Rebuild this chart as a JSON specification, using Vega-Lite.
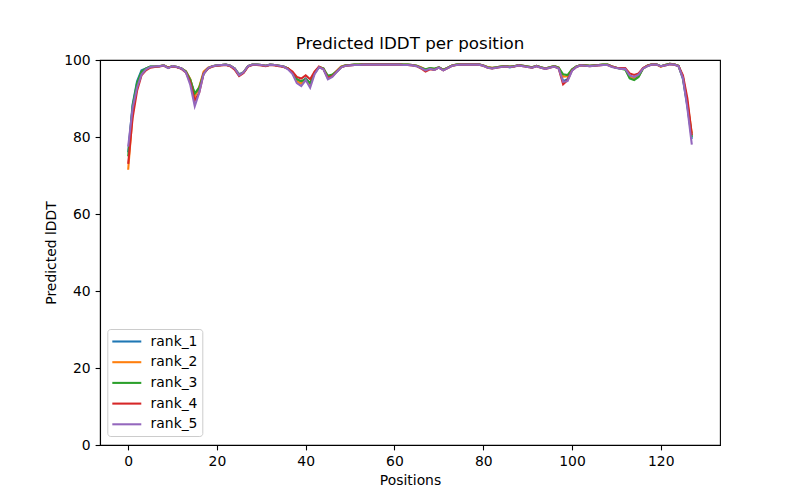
{
"$schema": "https://vega.github.io/schema/vega-lite/v6.json",
"width": 620, "height": 385,
"autosize": {"type": "none"},
"padding": {"left": 100, "top": 60, "right": 80, "bottom": 55},
"background": "white",
"title": {"text": "Predicted lDDT per position", "fontSize": 16.7, "font": "DejaVu Sans", "fontWeight": "normal", "color": "#000", "offset": 0},
"data": {"values": [
{"p":0,"rank_1":76,"rank_2":71.5,"rank_3":75,"rank_4":73,"rank_5":77.5},
{"p":1,"rank_1":88.5,"rank_2":86,"rank_3":88,"rank_4":85,"rank_5":87.5},
{"p":2,"rank_1":94.5,"rank_2":93,"rank_3":94,"rank_4":92,"rank_5":92.8},
{"p":3,"rank_1":97.3,"rank_2":96.5,"rank_3":97,"rank_4":96,"rank_5":96.2},
{"p":4,"rank_1":97.8,"rank_2":97.5,"rank_3":97.8,"rank_4":97.3,"rank_5":97.6},
{"p":5,"rank_1":98.3,"rank_2":98.2,"rank_3":98.3,"rank_4":98,"rank_5":98.2},
{"p":6,"rank_1":98.3,"rank_2":98.3,"rank_3":98.3,"rank_4":98.2,"rank_5":98.3},
{"p":7,"rank_1":98.4,"rank_2":98.4,"rank_3":98.4,"rank_4":98.3,"rank_5":98.4},
{"p":8,"rank_1":98.6,"rank_2":98.7,"rank_3":98.6,"rank_4":98.5,"rank_5":98.6},
{"p":9,"rank_1":98,"rank_2":98,"rank_3":98,"rank_4":98,"rank_5":97.9},
{"p":10,"rank_1":98.4,"rank_2":98.4,"rank_3":98.4,"rank_4":98.3,"rank_5":98.4},
{"p":11,"rank_1":98.2,"rank_2":98.2,"rank_3":98.2,"rank_4":98.1,"rank_5":98.2},
{"p":12,"rank_1":97.8,"rank_2":97.8,"rank_3":97.8,"rank_4":97.7,"rank_5":97.8},
{"p":13,"rank_1":97,"rank_2":97.1,"rank_3":97,"rank_4":96.8,"rank_5":96.8},
{"p":14,"rank_1":94.8,"rank_2":95,"rank_3":94.8,"rank_4":94.2,"rank_5":93.5},
{"p":15,"rank_1":91,"rank_2":90.5,"rank_3":91.3,"rank_4":89.5,"rank_5":88},
{"p":16,"rank_1":92.5,"rank_2":93,"rank_3":92.8,"rank_4":91.5,"rank_5":91.5},
{"p":17,"rank_1":96.5,"rank_2":97,"rank_3":96.5,"rank_4":96.5,"rank_5":96.4},
{"p":18,"rank_1":97.9,"rank_2":98,"rank_3":97.9,"rank_4":97.8,"rank_5":97.9},
{"p":19,"rank_1":98.4,"rank_2":98.4,"rank_3":98.4,"rank_4":98.3,"rank_5":98.4},
{"p":20,"rank_1":98.6,"rank_2":98.6,"rank_3":98.6,"rank_4":98.5,"rank_5":98.6},
{"p":21,"rank_1":98.7,"rank_2":98.7,"rank_3":98.7,"rank_4":98.6,"rank_5":98.7},
{"p":22,"rank_1":98.8,"rank_2":98.8,"rank_3":98.8,"rank_4":98.7,"rank_5":98.8},
{"p":23,"rank_1":98.5,"rank_2":98.5,"rank_3":98.5,"rank_4":98.4,"rank_5":98.5},
{"p":24,"rank_1":97.8,"rank_2":97.8,"rank_3":97.8,"rank_4":97.5,"rank_5":97.8},
{"p":25,"rank_1":96.3,"rank_2":96,"rank_3":96,"rank_4":95.8,"rank_5":96},
{"p":26,"rank_1":96.8,"rank_2":96.8,"rank_3":96.8,"rank_4":96.6,"rank_5":96.8},
{"p":27,"rank_1":98.4,"rank_2":98.4,"rank_3":98.4,"rank_4":98.3,"rank_5":98.4},
{"p":28,"rank_1":98.8,"rank_2":98.8,"rank_3":98.8,"rank_4":98.7,"rank_5":98.8},
{"p":29,"rank_1":98.8,"rank_2":98.8,"rank_3":98.8,"rank_4":98.7,"rank_5":98.8},
{"p":30,"rank_1":98.7,"rank_2":98.7,"rank_3":98.7,"rank_4":98.6,"rank_5":98.7},
{"p":31,"rank_1":98.5,"rank_2":98.5,"rank_3":98.5,"rank_4":98.4,"rank_5":98.5},
{"p":32,"rank_1":98.8,"rank_2":98.8,"rank_3":98.8,"rank_4":98.7,"rank_5":98.8},
{"p":33,"rank_1":98.7,"rank_2":98.7,"rank_3":98.7,"rank_4":98.6,"rank_5":98.7},
{"p":34,"rank_1":98.5,"rank_2":98.5,"rank_3":98.5,"rank_4":98.4,"rank_5":98.5},
{"p":35,"rank_1":98.3,"rank_2":98.3,"rank_3":98.3,"rank_4":98.2,"rank_5":98.3},
{"p":36,"rank_1":97.8,"rank_2":97.8,"rank_3":97.8,"rank_4":97.8,"rank_5":97.6},
{"p":37,"rank_1":96.8,"rank_2":96.6,"rank_3":96.8,"rank_4":97,"rank_5":96.4},
{"p":38,"rank_1":95,"rank_2":94.5,"rank_3":95,"rank_4":95.6,"rank_5":94},
{"p":39,"rank_1":94.3,"rank_2":93.8,"rank_3":94.5,"rank_4":95.2,"rank_5":93.2},
{"p":40,"rank_1":95.2,"rank_2":95,"rank_3":95,"rank_4":96,"rank_5":94.8},
{"p":41,"rank_1":94,"rank_2":93.5,"rank_3":94,"rank_4":95,"rank_5":92.8},
{"p":42,"rank_1":96.6,"rank_2":96.8,"rank_3":96.6,"rank_4":97,"rank_5":96.3},
{"p":43,"rank_1":98.2,"rank_2":98.2,"rank_3":98.2,"rank_4":98.3,"rank_5":98.1},
{"p":44,"rank_1":97.7,"rank_2":97.8,"rank_3":97.8,"rank_4":97.6,"rank_5":97.6},
{"p":45,"rank_1":95.3,"rank_2":95.3,"rank_3":95.9,"rank_4":95.4,"rank_5":95},
{"p":46,"rank_1":95.8,"rank_2":95.9,"rank_3":96.2,"rank_4":95.8,"rank_5":95.6},
{"p":47,"rank_1":97,"rank_2":97.2,"rank_3":97.1,"rank_4":97,"rank_5":96.9},
{"p":48,"rank_1":98.2,"rank_2":98.3,"rank_3":98.2,"rank_4":98.1,"rank_5":98.1},
{"p":49,"rank_1":98.6,"rank_2":98.6,"rank_3":98.6,"rank_4":98.5,"rank_5":98.5},
{"p":50,"rank_1":98.7,"rank_2":98.7,"rank_3":98.7,"rank_4":98.6,"rank_5":98.6},
{"p":51,"rank_1":98.8,"rank_2":98.8,"rank_3":98.8,"rank_4":98.7,"rank_5":98.7},
{"p":52,"rank_1":98.8,"rank_2":98.8,"rank_3":98.8,"rank_4":98.7,"rank_5":98.7},
{"p":53,"rank_1":98.9,"rank_2":98.9,"rank_3":98.9,"rank_4":98.8,"rank_5":98.8},
{"p":54,"rank_1":98.9,"rank_2":98.9,"rank_3":98.9,"rank_4":98.8,"rank_5":98.8},
{"p":55,"rank_1":98.9,"rank_2":98.9,"rank_3":98.9,"rank_4":98.8,"rank_5":98.8},
{"p":56,"rank_1":98.9,"rank_2":98.9,"rank_3":98.9,"rank_4":98.8,"rank_5":98.8},
{"p":57,"rank_1":98.9,"rank_2":98.9,"rank_3":98.9,"rank_4":98.8,"rank_5":98.8},
{"p":58,"rank_1":98.9,"rank_2":98.9,"rank_3":98.9,"rank_4":98.8,"rank_5":98.8},
{"p":59,"rank_1":98.9,"rank_2":98.9,"rank_3":98.9,"rank_4":98.8,"rank_5":98.8},
{"p":60,"rank_1":98.9,"rank_2":98.9,"rank_3":98.9,"rank_4":98.8,"rank_5":98.8},
{"p":61,"rank_1":98.9,"rank_2":98.9,"rank_3":98.9,"rank_4":98.8,"rank_5":98.8},
{"p":62,"rank_1":98.8,"rank_2":98.8,"rank_3":98.8,"rank_4":98.7,"rank_5":98.7},
{"p":63,"rank_1":98.8,"rank_2":98.8,"rank_3":98.8,"rank_4":98.7,"rank_5":98.7},
{"p":64,"rank_1":98.7,"rank_2":98.7,"rank_3":98.7,"rank_4":98.6,"rank_5":98.6},
{"p":65,"rank_1":98.5,"rank_2":98.5,"rank_3":98.5,"rank_4":98.4,"rank_5":98.4},
{"p":66,"rank_1":98,"rank_2":98.1,"rank_3":98,"rank_4":97.8,"rank_5":97.9},
{"p":67,"rank_1":97.4,"rank_2":97.5,"rank_3":97.6,"rank_4":97,"rank_5":97.3},
{"p":68,"rank_1":97.8,"rank_2":97.9,"rank_3":97.9,"rank_4":97.6,"rank_5":97.7},
{"p":69,"rank_1":97.5,"rank_2":97.6,"rank_3":97.8,"rank_4":97.4,"rank_5":97.4},
{"p":70,"rank_1":98.1,"rank_2":98.1,"rank_3":98.1,"rank_4":98,"rank_5":98},
{"p":71,"rank_1":97.4,"rank_2":97.5,"rank_3":97.5,"rank_4":97.3,"rank_5":97.3},
{"p":72,"rank_1":98,"rank_2":98,"rank_3":98,"rank_4":97.9,"rank_5":97.9},
{"p":73,"rank_1":98.6,"rank_2":98.6,"rank_3":98.6,"rank_4":98.5,"rank_5":98.5},
{"p":74,"rank_1":98.8,"rank_2":98.8,"rank_3":98.8,"rank_4":98.7,"rank_5":98.7},
{"p":75,"rank_1":98.9,"rank_2":98.9,"rank_3":98.9,"rank_4":98.8,"rank_5":98.8},
{"p":76,"rank_1":98.9,"rank_2":98.9,"rank_3":98.9,"rank_4":98.8,"rank_5":98.8},
{"p":77,"rank_1":98.9,"rank_2":98.9,"rank_3":98.9,"rank_4":98.8,"rank_5":98.8},
{"p":78,"rank_1":98.9,"rank_2":98.9,"rank_3":98.9,"rank_4":98.8,"rank_5":98.8},
{"p":79,"rank_1":98.9,"rank_2":98.9,"rank_3":98.9,"rank_4":98.8,"rank_5":98.8},
{"p":80,"rank_1":98.6,"rank_2":98.6,"rank_3":98.6,"rank_4":98.5,"rank_5":98.5},
{"p":81,"rank_1":98.1,"rank_2":98.2,"rank_3":98.1,"rank_4":98,"rank_5":98},
{"p":82,"rank_1":97.9,"rank_2":98,"rank_3":97.9,"rank_4":97.8,"rank_5":97.8},
{"p":83,"rank_1":98.1,"rank_2":98.1,"rank_3":98.1,"rank_4":98,"rank_5":98},
{"p":84,"rank_1":98.3,"rank_2":98.3,"rank_3":98.3,"rank_4":98.2,"rank_5":98.2},
{"p":85,"rank_1":98.4,"rank_2":98.4,"rank_3":98.4,"rank_4":98.3,"rank_5":98.3},
{"p":86,"rank_1":98.1,"rank_2":98.3,"rank_3":98.3,"rank_4":98.2,"rank_5":98.2},
{"p":87,"rank_1":98.4,"rank_2":98.4,"rank_3":98.4,"rank_4":98.3,"rank_5":98.3},
{"p":88,"rank_1":98.7,"rank_2":98.7,"rank_3":98.7,"rank_4":98.6,"rank_5":98.6},
{"p":89,"rank_1":98.5,"rank_2":98.5,"rank_3":98.5,"rank_4":98.4,"rank_5":98.4},
{"p":90,"rank_1":98.3,"rank_2":98.3,"rank_3":98.3,"rank_4":98.2,"rank_5":98.2},
{"p":91,"rank_1":98.1,"rank_2":98.1,"rank_3":98.1,"rank_4":98,"rank_5":98},
{"p":92,"rank_1":98.5,"rank_2":98.5,"rank_3":98.5,"rank_4":98.4,"rank_5":98.4},
{"p":93,"rank_1":98.1,"rank_2":98.1,"rank_3":98.1,"rank_4":98,"rank_5":98},
{"p":94,"rank_1":97.8,"rank_2":97.8,"rank_3":97.8,"rank_4":97.7,"rank_5":97.7},
{"p":95,"rank_1":98.1,"rank_2":98.1,"rank_3":98.1,"rank_4":98,"rank_5":98},
{"p":96,"rank_1":98.4,"rank_2":98.4,"rank_3":98.4,"rank_4":98.3,"rank_5":98.3},
{"p":97,"rank_1":98,"rank_2":98,"rank_3":98,"rank_4":97.8,"rank_5":97.8},
{"p":98,"rank_1":94.5,"rank_2":95.7,"rank_3":96.3,"rank_4":93.7,"rank_5":94.3},
{"p":99,"rank_1":95,"rank_2":95.8,"rank_3":96.1,"rank_4":94.8,"rank_5":94.5},
{"p":100,"rank_1":97.4,"rank_2":97.5,"rank_3":97.6,"rank_4":97.3,"rank_5":97.2},
{"p":101,"rank_1":98.3,"rank_2":98.3,"rank_3":98.3,"rank_4":98.2,"rank_5":98.2},
{"p":102,"rank_1":98.7,"rank_2":98.7,"rank_3":98.7,"rank_4":98.6,"rank_5":98.6},
{"p":103,"rank_1":98.6,"rank_2":98.6,"rank_3":98.6,"rank_4":98.5,"rank_5":98.5},
{"p":104,"rank_1":98.5,"rank_2":98.5,"rank_3":98.5,"rank_4":98.4,"rank_5":98.4},
{"p":105,"rank_1":98.6,"rank_2":98.6,"rank_3":98.6,"rank_4":98.5,"rank_5":98.5},
{"p":106,"rank_1":98.7,"rank_2":98.7,"rank_3":98.7,"rank_4":98.6,"rank_5":98.6},
{"p":107,"rank_1":98.8,"rank_2":98.8,"rank_3":98.8,"rank_4":98.7,"rank_5":98.7},
{"p":108,"rank_1":98.8,"rank_2":98.8,"rank_3":98.8,"rank_4":98.7,"rank_5":98.7},
{"p":109,"rank_1":98.3,"rank_2":98.3,"rank_3":98.3,"rank_4":98.3,"rank_5":98.2},
{"p":110,"rank_1":98,"rank_2":98,"rank_3":98,"rank_4":98,"rank_5":97.9},
{"p":111,"rank_1":97.8,"rank_2":97.8,"rank_3":97.7,"rank_4":97.9,"rank_5":97.7},
{"p":112,"rank_1":97.7,"rank_2":97.7,"rank_3":97.5,"rank_4":97.9,"rank_5":97.7},
{"p":113,"rank_1":95.8,"rank_2":95.5,"rank_3":95.2,"rank_4":96.5,"rank_5":96},
{"p":114,"rank_1":95.4,"rank_2":95.2,"rank_3":94.8,"rank_4":96.1,"rank_5":95.6},
{"p":115,"rank_1":95.8,"rank_2":95.8,"rank_3":95.6,"rank_4":96.5,"rank_5":96.2},
{"p":116,"rank_1":97.8,"rank_2":97.8,"rank_3":97.8,"rank_4":97.9,"rank_5":97.8},
{"p":117,"rank_1":98.5,"rank_2":98.5,"rank_3":98.5,"rank_4":98.5,"rank_5":98.4},
{"p":118,"rank_1":98.9,"rank_2":98.9,"rank_3":98.9,"rank_4":98.8,"rank_5":98.8},
{"p":119,"rank_1":98.9,"rank_2":98.9,"rank_3":98.9,"rank_4":98.8,"rank_5":98.8},
{"p":120,"rank_1":98.4,"rank_2":98.2,"rank_3":98.4,"rank_4":98.4,"rank_5":98.4},
{"p":121,"rank_1":98.7,"rank_2":98.7,"rank_3":98.7,"rank_4":98.6,"rank_5":98.6},
{"p":122,"rank_1":99,"rank_2":99,"rank_3":99,"rank_4":98.9,"rank_5":98.9},
{"p":123,"rank_1":98.9,"rank_2":98.9,"rank_3":98.9,"rank_4":98.8,"rank_5":98.8},
{"p":124,"rank_1":98.5,"rank_2":98.5,"rank_3":98.5,"rank_4":98.4,"rank_5":98.4},
{"p":125,"rank_1":95,"rank_2":95.5,"rank_3":95.5,"rank_4":96,"rank_5":95.3},
{"p":126,"rank_1":88,"rank_2":89,"rank_3":88.5,"rank_4":90,"rank_5":87.5},
{"p":127,"rank_1":79.5,"rank_2":81,"rank_3":80,"rank_4":80.5,"rank_5":78}
]},
"transform": [{"fold": ["rank_1", "rank_2", "rank_3", "rank_4", "rank_5"], "as": ["rank", "value"]}],
"mark": {"type": "line", "strokeWidth": 2.08, "clip": true},
"encoding": {
  "x": {"field": "p", "type": "quantitative", "title": "Positions",
        "scale": {"domain": [-6.35, 133.35], "nice": false, "zero": false},
        "axis": {"values": [0, 20, 40, 60, 80, 100, 120], "grid": false, "format": "d"}},
  "y": {"field": "value", "type": "quantitative", "title": "Predicted lDDT",
        "scale": {"domain": [0, 100], "nice": false, "zero": false},
        "axis": {"values": [0, 20, 40, 60, 80, 100], "grid": false, "format": "d"}},
  "color": {"field": "rank", "type": "nominal",
        "scale": {"domain": ["rank_1", "rank_2", "rank_3", "rank_4", "rank_5"], "range": ["#1f77b4", "#ff7f0e", "#2ca02c", "#d62728", "#9467bd"]},
        "legend": {"title": null, "orient": "none", "legendX": 7.3, "legendY": 269,
                   "symbolType": "M-2,0H2", "symbolSize": 210, "symbolStrokeWidth": 2.08,
                   "symbolOffset": 7, "labelOffset": 15.3, "rowPadding": 4.7, "padding": 4,
                   "labelFontSize": 13.9, "labelFont": "DejaVu Sans", "labelColor": "#000",
                   "fillColor": "rgba(255,255,255,0.8)", "strokeColor": "#cccccc", "cornerRadius": 3}}
},
"config": {
  "view": {"stroke": "#000", "strokeWidth": 1.1},
  "axis": {"domainColor": "#000", "domainWidth": 1.1, "tickColor": "#000", "tickWidth": 1.1, "tickSize": 4.9,
           "labelPadding": 4.9, "labelFontSize": 13.9, "labelFont": "DejaVu Sans", "labelColor": "#000",
           "titleFontSize": 13.9, "titleFont": "DejaVu Sans", "titleFontWeight": "normal", "titleColor": "#000", "titlePadding": 5}
}
}
